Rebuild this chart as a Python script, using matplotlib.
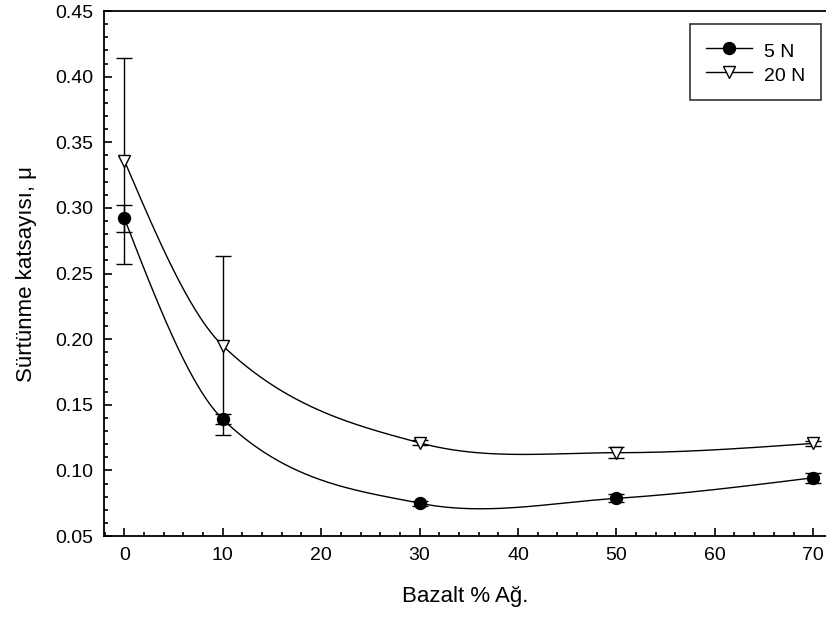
import numpy as np
import matplotlib
matplotlib.use("Agg")
import matplotlib.pyplot as plt
from matplotlib.ticker import MultipleLocator, FormatStrFormatter

plt.rcParams['font.family'] = ['Liberation Sans', 'DejaVu Sans']

# data
bazalt = [0, 10, 30, 50, 70]
mu_5n = [0.292, 0.139, 0.075, 0.0787, 0.0944]
err_5n = [0.0105, 0.004, 0.002, 0.003, 0.004]
mu_20n = [0.336, 0.195, 0.121, 0.1135, 0.1206]
err_20n = [0.0785, 0.068, 0.002, 0.004, 0.002]


def smooth_curve(x, y, xs):
    # cardinal (Catmull-Rom style) cubic Hermite through the points
    x = np.asarray(x, float)
    y = np.asarray(y, float)
    n = len(x)
    m = np.zeros(n)
    for i in range(1, n - 1):
        m[i] = (y[i + 1] - y[i - 1]) / (x[i + 1] - x[i - 1])
    d0 = (y[1] - y[0]) / (x[1] - x[0])
    dn = (y[-1] - y[-2]) / (x[-1] - x[-2])
    m[0] = 1.5 * d0 - 0.5 * m[1]
    m[-1] = 1.5 * dn - 0.5 * m[-2]
    idx = np.clip(np.searchsorted(x, xs) - 1, 0, n - 2)
    h = x[idx + 1] - x[idx]
    t = (xs - x[idx]) / h
    h00 = 2 * t ** 3 - 3 * t ** 2 + 1
    h10 = t ** 3 - 2 * t ** 2 + t
    h01 = -2 * t ** 3 + 3 * t ** 2
    h11 = t ** 3 - t ** 2
    return h00 * y[idx] + h10 * h * m[idx] + h01 * y[idx + 1] + h11 * h * m[idx + 1]


xs = np.linspace(bazalt[0], bazalt[-1], 400)

fig = plt.figure(figsize=(8.26, 6.23), dpi=100)
ax = fig.add_axes([0.1259, 0.1396, 0.8741, 0.8427])

ax.plot(xs, smooth_curve(bazalt, mu_5n, xs), color='black', lw=1.0, zorder=2)
ax.plot(xs, smooth_curve(bazalt, mu_20n, xs), color='black', lw=1.0, zorder=2)

ax.errorbar(bazalt, mu_5n, yerr=err_5n, fmt='none', ecolor='black',
            elinewidth=1.0, capsize=5.5, capthick=1.0, zorder=3)
ax.errorbar(bazalt, mu_20n, yerr=err_20n, fmt='none', ecolor='black',
            elinewidth=1.0, capsize=5.5, capthick=1.0, zorder=3)

ax.plot(bazalt, mu_5n, 'o', color='black', ms=8.6, zorder=4)
ax.plot(bazalt, mu_20n, 'v', mfc='white', mec='black', mew=1.0, ms=9, zorder=4)

# legend proxies (line + marker)
h5, = ax.plot([], [], '-o', color='black', lw=1.0, ms=8.6, label='5 N')
h20, = ax.plot([], [], '-v', color='black', mfc='white', mec='black',
               lw=1.0, ms=9, label='20 N')
leg = ax.legend(handles=[h5, h20], loc='upper right',
                bbox_to_anchor=(0.9939, 0.9607), bbox_transform=fig.transFigure,
                fontsize=14, frameon=True, fancybox=False, edgecolor='black',
                handlelength=2.4, handleheight=1.25, handletextpad=0.6,
                borderpad=0.8, labelspacing=0.15, borderaxespad=0)
leg.get_frame().set_linewidth(1.2)

ax.set_xlim(-2.07, 71.3)
ax.set_ylim(0.05, 0.45)
ax.xaxis.set_major_locator(MultipleLocator(10))
ax.xaxis.set_minor_locator(MultipleLocator(2))
ax.yaxis.set_major_locator(MultipleLocator(0.05))
ax.yaxis.set_minor_locator(MultipleLocator(0.01))
ax.yaxis.set_major_formatter(FormatStrFormatter('%.2f'))

ax.tick_params(which='both', direction='in', top=False, right=False,
               labelsize=14, width=1.2, pad=8)
ax.tick_params(which='major', length=5.5)
ax.tick_params(which='minor', length=3.2)

for side in ['left', 'bottom', 'top']:
    ax.spines[side].set_linewidth(1.3)
ax.spines['right'].set_visible(False)

ax.set_xlabel('Bazalt % Ağ.', fontsize=16, labelpad=16)
ax.set_ylabel('Sürtünme katsayısı, μ', fontsize=16, labelpad=13)

fig.savefig('out.png', dpi=100)
